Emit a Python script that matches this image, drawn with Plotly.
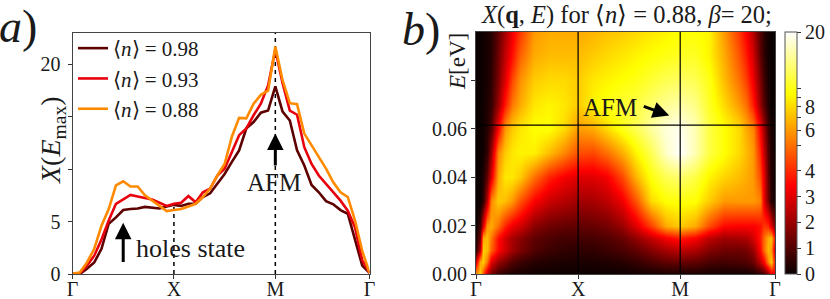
import numpy as np
import plotly.graph_objects as go

W, H = 830, 299
# ---------- panel a data ----------
q_path = list(range(42))
x_ticks = [0, 14, 28, 41]
x_labels = ["Γ", "X", "M", "Γ"]
n098 = [0.05,0,0.5,1.1,2.4,4.8,5.4,6.1,6.2,6.25,6.4,6.3,6.25,6.45,6.6,6.5,6.7,6.7,7.35,7.7,8.6,9.55,10.7,11.8,13.9,14.5,15.4,15.6,17.9,15.5,14.65,11.8,10.35,8.5,7.8,6.95,6.65,6.1,5.75,3.35,0.8,0.1]
n093 = [0.05,0.05,0.8,1.75,3.3,5.1,6.7,7.1,7.55,7.4,7.25,7.1,6.8,6.5,6.7,6.8,7.45,6.85,7.8,8.15,9.4,10.05,11.65,13.25,13.9,15.15,16.25,18.0,21.4,18.2,15.6,15.2,12.1,10.5,9.4,8.6,7.9,7.0,6.05,4.45,1.3,0.1]
n088 = [0.05,0.15,1.1,2.4,4.6,6.2,8.45,8.85,8.35,8.35,7.5,7.0,6.5,6.0,6.1,6.2,6.45,6.7,7.35,8.15,9.4,10.5,13.1,14.9,14.85,16.25,17.1,17.5,21.7,18.5,16.3,16.2,13.4,12.3,11.15,10.05,8.75,7.8,7.35,5.1,2.2,0.1]
legend_names = ["⟨<i>n</i>⟩ = 0.98", "⟨<i>n</i>⟩ = 0.93", "⟨<i>n</i>⟩ = 0.88"]
line_colors = ["#5e0000", "#e8000c", "#ff8a00"]

# ---------- panel b data ----------
q_grid = [0,.5,1,1.5,2,3,4,5,6,8,10,12,14,16,18,20,22,24,26,28,30,32,34,36,37,38,39,39.5,40,40.5,41]
E_grid = [0,.005,.01,.015,.02,.03,.04,.05,.06,.07,.08,.09,.1]
X_E000 = [6,7.5,4.5,2.5,1.5,.7,.4,.25,.15,.08,.06,.05,.05,.05,.06,.08,.1,.15,.2,.2,.2,.15,.1,.1,.1,.2,.5,.9,1.8,3,3.5]
X_E005 = [3,6.5,7.5,5,3,2,1.5,1,.7,.4,.3,.25,.25,.25,.3,.4,.6,.9,1.2,1.3,1.2,.9,.8,.9,1,1.3,2.5,3.5,5.5,7.5,3.5]
X_E010 = [.5,2.5,7.5,7,4.8,3.5,2.8,2.1,1.6,1,.7,.55,.5,.55,.7,.9,1.2,1.7,2.2,2.5,2.3,1.7,1.4,1.4,1.5,2,3.5,5,7,6,2.5]
X_E015 = [.3,1.5,6.5,7,5.2,3.6,2.8,2.2,1.8,1.2,.95,.8,.8,.85,1,1.3,1.9,2.6,3.3,3.8,3.4,2.5,2.1,2.2,2.3,2.8,3.8,5,6.5,7,3.5]
X_E020 = [0,.8,3,6,6.5,5,3.9,3.2,2.8,1.8,1.4,1.25,1.2,1.3,1.5,2,3,4.3,6.5,7.5,6.5,4.5,3.5,3.4,3.4,3.4,3.6,4.2,4,3,1.5]
X_E030 = [0,0,.5,2.5,5.5,7.5,7,6,4.6,3.4,2.7,2.4,2.1,2.2,2.5,3.2,4.6,8,9.5,9.8,9.5,7.5,6,6,6,6,5.5,3,1.5,.4,.1]
X_E040 = [0,0,.3,1.2,3,6.5,8.5,8.5,7.5,5,3.9,3.3,3,3,3.3,4.4,6.8,9.8,12,13,11.5,9,7.8,7,6.5,6,4.5,3,1.2,.3,.1]
X_E050 = [0,0,.1,.6,2,5.5,7.5,8.5,9,8.8,7,5.5,4.5,4.4,5,6.5,9,12,17,20,16,11.5,9.5,8,7,6,4,2.5,1,.3,.1]
X_E060 = [0,0,.1,.4,1,3.4,6,7.5,8.5,9.5,9.5,8,6,6.5,8,10,12,15,18,19,16,11.5,9.5,8,6.5,5.5,3.4,2,.7,.2,0]
X_E070 = [0,0,.1,.3,.6,2,3.8,5.2,6.5,8.5,9,8.5,7.5,9,10,11,11.5,13,14.5,15.5,14,10.5,8,6,5,3.8,2,1,.3,0,0]
X_E080 = [0,0,.1,.2,.5,1.6,3,4.4,5.8,7.5,8,8,7.5,8.5,9,9.5,10,11,12,12.5,12,10,7,5,4.3,3.2,1.6,.7,.2,0,0]
X_E090 = [0,0,.1,.2,.4,1.4,2.6,3.6,4.8,6.5,7,7,7,7.5,8,8.5,9,9.5,10,10.5,10.5,9,6.5,4.6,3.8,2.8,1.2,.5,.1,0,0]
X_E100 = [0,0,.1,.2,.4,1.2,2.2,3.2,4.2,6,6.5,6.5,6.5,6.8,7.2,7.5,8,8.5,9,9.5,9.5,9,6,4.2,3.4,2.4,1,.4,.1,0,0]
X_rows = [X_E000,X_E005,X_E010,X_E015,X_E020,X_E030,X_E040,X_E050,X_E060,X_E070,X_E080,X_E090,X_E100]
cb_values = [0,1,2,3,4,5,6,7,8,9,10,20]
cb_labels = ["0","1","2","3","4","","6","","8","","","20"]
y_ticks_a = [0,5,10,15,20]
y_labels_a = ["0","5","","","20"]
y_ticks_b = [0,.02,.04,.06,.08]
y_labels_b = ["0.00","0.02","0.04","0.06",""]
E_line = 0.0615

def norm(v):
    v = np.asarray(v, dtype=float)
    return np.where(v <= 5, 0.1065*v, 0.5325 + 0.4675*np.log(np.maximum(v,5)/5)/np.log(4))

hot = [[0,"rgb(10,0,0)"],[.365,"rgb(255,0,0)"],[.746,"rgb(255,255,0)"],[1,"rgb(255,255,255)"]]
FONT = "Liberation Serif"
TXT = "#1a1a1a"

fig = go.Figure()
for name, vals, col in zip(legend_names, [n098,n093,n088], line_colors):
    fig.add_trace(go.Scatter(x=q_path, y=vals, mode="lines", name=name, legendgroup=name,
                             line=dict(color=col, width=2.6), xaxis="x", yaxis="y"))

fig.add_trace(go.Heatmap(x=q_grid, y=E_grid, z=norm(X_rows).tolist(), zmin=0, zmax=1, zsmooth="best",
    colorscale=hot, xaxis="x2", yaxis="y2", showscale=True,
    colorbar=dict(x=785/W, xanchor="left", y=(H-274)/H, yanchor="bottom", lenmode="pixels", len=242,
                  thicknessmode="pixels", thickness=12, xpad=0, ypad=0, outlinecolor="#555", outlinewidth=1,
                  tickmode="array", tickvals=norm(cb_values).tolist(), ticktext=cb_labels,
                  ticks="outside", ticklen=4, tickcolor="#333", tickfont=dict(family=FONT,size=20,color=TXT))))

def ax(**k):
    return dict(showgrid=False, zeroline=False, showline=True, mirror=True, linecolor="#444", linewidth=1,
                ticks="outside", ticklen=4, tickcolor="#333", tickmode="array",
                tickfont=dict(family=FONT, size=20, color=TXT), **k)

fig.update_layout(
    width=W, height=H, autosize=False, margin=dict(l=0,r=0,t=0,b=0,autoexpand=False), paper_bgcolor="white", plot_bgcolor="white",
    xaxis=ax(domain=[72.5/W,369.5/W], range=[0,41], tickvals=x_ticks, ticktext=x_labels, anchor="y", ticklabelstandoff=-7),
    yaxis=ax(domain=[(H-274)/H,(H-33)/H], range=[0,23], tickvals=y_ticks_a, ticktext=y_labels_a, anchor="x", ticklabelstandoff=3),
    xaxis2=ax(domain=[476/W,775/W], range=[0,41], tickvals=x_ticks, ticktext=x_labels, anchor="y2", ticklabelstandoff=-7),
    yaxis2=ax(domain=[(H-274)/H,(H-32)/H], range=[0,.1], tickvals=y_ticks_b, ticktext=y_labels_b, anchor="x2"),
    legend=dict(x=73/W, y=(H-28)/H, xanchor="left", yanchor="top", bgcolor="rgba(0,0,0,0)", tracegroupgap=0,
                font=dict(family=FONT,size=21,color=TXT), itemwidth=30),
    showlegend=True,
)

for xv, top in [(14, 6.4), (28, 23)]:
    fig.add_shape(type="line", xref="x", yref="y", x0=xv, x1=xv, y0=0, y1=top,
                  line=dict(color="black", width=1.5, dash="4px,4px"), layer="below")
for xv in x_ticks[1:3]:
    fig.add_shape(type="line", xref="x2", yref="y2", x0=xv, x1=xv, y0=0, y1=.1, line=dict(color="black", width=1.2))
fig.add_shape(type="line", xref="x2", yref="y2", x0=0, x1=41, y0=E_line, y1=E_line, line=dict(color="black", width=1.2))

def text(x, y, s, size, angle=0, xanchor="center"):
    fig.add_annotation(xref="paper", yref="paper", x=x/W, y=1-y/H, text=s, showarrow=False, textangle=angle,
                       xanchor=xanchor, yanchor="middle", font=dict(family=FONT,size=size,color=TXT))

text(18, 27, "<i>a</i>)", 46)
text(421, 29, "<i>b</i>)", 46)
text(52, 140, "<i>X</i>(<i>E</i><sub>max</sub>)", 28, angle=-90)
text(458, 62, "<i>E</i>[eV]", 23, angle=-90)
text(626, 15, "<i>X</i>(<b>q</b>, <i>E</i>) for ⟨<i>n</i>⟩ = 0.88, <i>β</i>= 20;", 24.5)
text(190, 248, "holes state", 26)
text(274, 182, "AFM", 25)
text(610, 107, "AFM", 25)

def arrow(xr, yr, x0, y0, x1, y1):
    fig.add_annotation(xref=xr, yref=yr, axref=xr, ayref=yr, x=x1, y=y1, ax=x0, ay=y0, text="", showarrow=True,
                       arrowhead=2, arrowsize=1.1, arrowwidth=3, arrowcolor="black")
arrow("x","y", 7, 1.0, 7, 4.9)
arrow("x","y", 28, 10.2, 28, 13.4)
arrow("x2","y2", 22.8, .0695, 26.5, .0655)

fig.write_html("out.html", config=dict(displayModeBar=False),
               post_script="document.body.style.margin='0';document.documentElement.style.overflow='hidden';")
